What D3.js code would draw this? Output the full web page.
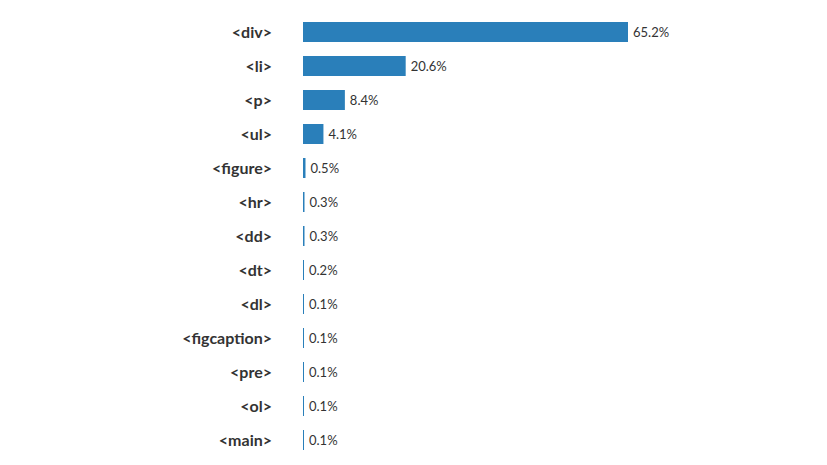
<!DOCTYPE html>
<html><head><meta charset="utf-8">
<script src="https://cdn.jsdelivr.net/npm/d3@7"></script>
<style>
html,body{margin:0;padding:0;background:#fff;}
svg{display:block;}
</style></head>
<body>
<svg id="chart" width="827" height="465"></svg>
<script>
const categories = ["<div>","<li>","<p>","<ul>","<figure>","<hr>","<dd>","<dt>","<dl>","<figcaption>","<pre>","<ol>","<main>"];
const values = [65.2,20.6,8.4,4.1,0.5,0.3,0.3,0.2,0.1,0.1,0.1,0.1,0.1];
const valueLabels = ["65.2%","20.6%","8.4%","4.1%","0.5%","0.3%","0.3%","0.2%","0.1%","0.1%","0.1%","0.1%","0.1%"];

const svg = d3.select("#chart");
const x = d3.scaleLinear().domain([0, 65.2]).range([303, 628]);
const y = d3.scaleBand().domain(categories).range([15, 457]).paddingInner(14/34).paddingOuter(7/34);

const data = categories.map((c,i)=>({c, v: values[i], l: valueLabels[i]}));

svg.selectAll("rect.bar").data(data).join("rect")
  .attr("class","bar")
  .attr("x", x(0))
  .attr("y", d=>y(d.c))
  .attr("width", d=>Math.max(1, x(d.v)-x(0)))
  .attr("height", y.bandwidth())
  .attr("fill", "#2a7fba");

svg.selectAll("text.cat").data(data).join("text")
  .attr("class","cat")
  .attr("x", 272)
  .attr("y", d=>y(d.c)+y.bandwidth()/2)
  .attr("dy","0.38em")
  .attr("text-anchor","end")
  .attr("font-family","Lato, sans-serif")
  .attr("font-weight","bold")
  .attr("font-size","16px")
  .attr("fill","#333")
  .text(d=>d.c);

svg.selectAll("text.val").data(data).join("text")
  .attr("class","val")
  .attr("x", d=>x(0)+Math.max(1, x(d.v)-x(0))+5)
  .attr("y", d=>y(d.c)+y.bandwidth()/2)
  .attr("dy","0.35em")
  .attr("font-family","Lato, sans-serif")
  .attr("font-size","13px")
  .attr("fill","#333")
  .text(d=>d.l);
</script>
</body></html>
